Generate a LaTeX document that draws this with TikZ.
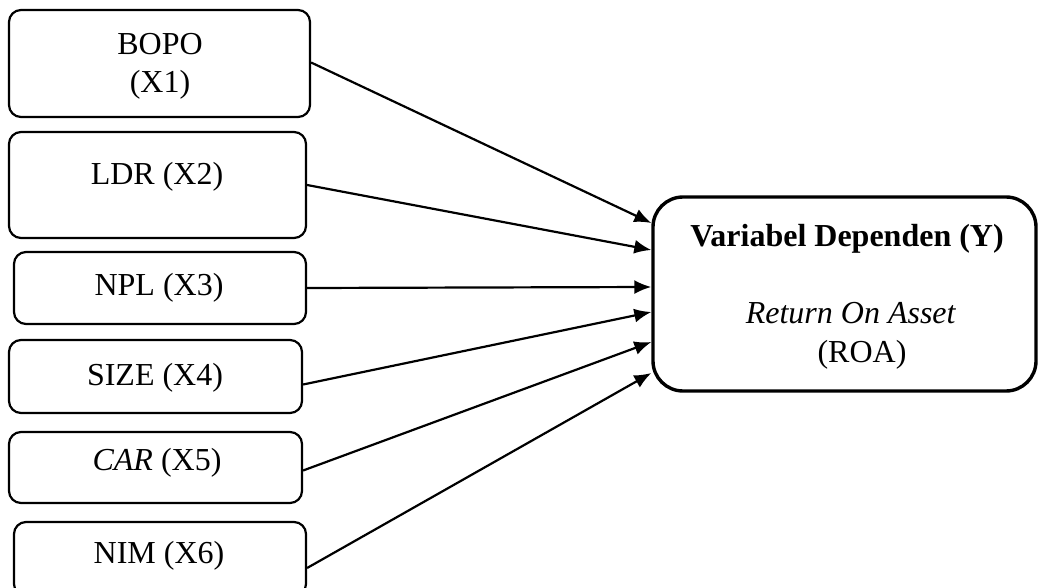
\documentclass[tikz,border=0pt]{standalone}
\usepackage{fontspec}
\setmainfont{Liberation Serif}
\usetikzlibrary{arrows.meta}
\begin{document}
\begin{tikzpicture}[x=0.5pt,y=-0.5pt,
  box/.style={draw,line width=1.1pt,rounded corners=6pt,inner sep=0pt},
  bigbox/.style={draw,line width=1.7pt,rounded corners=15pt,inner sep=0pt},
  lbl/.style={anchor=base,inner sep=0pt,font=\fontsize{16pt}{19pt}\selectfont},
  conn/.style={line width=1.1pt,-{Latex[length=8.5pt,width=7pt]}}]
\useasboundingbox (0,0) rectangle (1038,588);
\clip (0,0) rectangle (1038,588);
% source boxes
\node[box,minimum width=150.5pt,minimum height=53.5pt] (b1) at (159.5,63.5) {};
\node[box,minimum width=148.5pt,minimum height=53pt] (b2) at (157.5,185) {};
\node[box,minimum width=146pt,minimum height=36pt] (b3) at (160,288) {};
\node[box,minimum width=146.5pt,minimum height=36.5pt] (b4) at (155.5,376.5) {};
\node[box,minimum width=146.5pt,minimum height=35.5pt] (b5) at (155.5,467.5) {};
\node[box,minimum width=146pt,minimum height=37pt] (b6) at (160,559) {};
% target box
\node[bigbox,minimum width=191.5pt,minimum height=97pt] (Y) at (844.5,294) {};
% texts
\node[lbl] (t1a) at (160,55) {BOPO};
\node[lbl] (t1b) at (160,93) {(X1)};
\node[lbl] (t2) at (157,185) {LDR (X2)};
\node[lbl] (t3) at (159,295) {NPL (X3)};
\node[lbl] (t4) at (155,385) {SIZE (X4)};
\node[lbl] (t5) at (157,470) {\textit{CAR} (X5)};
\node[lbl] (t6) at (159,563) {NIM (X6)};
\node[lbl] (ty1) at (847,247) {\textbf{Variabel Dependen (Y)}};
\node[lbl] (ty2) at (851,323) {\textit{Return On Asset}};
\node[lbl] (ty3) at (862,362) {(ROA)};
% connectors
\draw[conn] ([yshift=0.5pt]b1.east) -- ([yshift=35.5pt]Y.west);
\draw[conn] ([yshift=0pt]b2.east) -- ([yshift=22pt]Y.west);
\draw[conn] (b3.east) -- ([yshift=3.5pt]Y.west);
\draw[conn] ([yshift=-4pt]b4.east) -- ([yshift=-9pt]Y.west);
\draw[conn] ([yshift=-1.5pt]b5.east) -- ([yshift=-24pt]Y.west);
\draw[conn] ([yshift=-4.5pt]b6.east) -- ([yshift=-39.5pt]Y.west);
\end{tikzpicture}
\end{document}
